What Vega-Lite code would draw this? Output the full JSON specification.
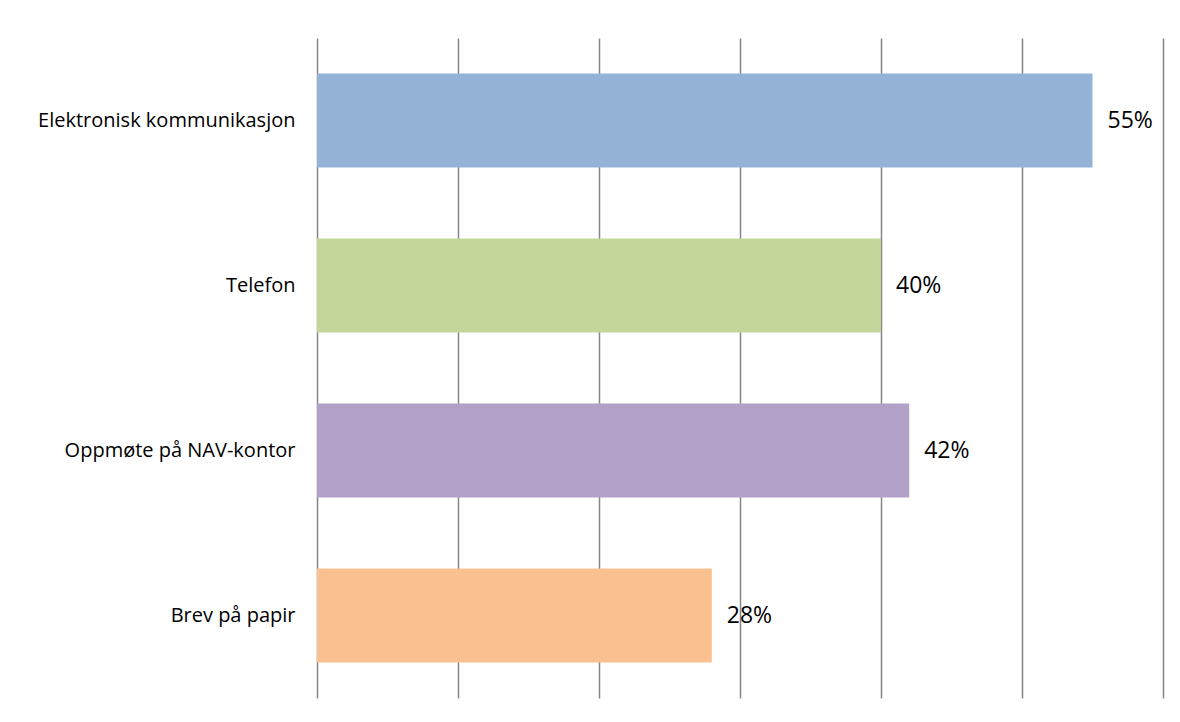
{
  "$schema": "https://vega.github.io/schema/vega-lite/v6.json",
  "autosize": {"type": "none"},
  "padding": {"left": 317, "top": 38, "right": 17, "bottom": 24},
  "width": 846,
  "height": 660,
  "background": "white",
  "config": {"view": {"stroke": null}, "font": "Open Sans"},
  "data": {
    "values": [
      {"kanal": "Elektronisk kommunikasjon", "andel": 0.55},
      {"kanal": "Telefon", "andel": 0.40},
      {"kanal": "Oppmøte på NAV-kontor", "andel": 0.42},
      {"kanal": "Brev på papir", "andel": 0.28}
    ]
  },
  "encoding": {
    "y": {
      "field": "kanal",
      "type": "nominal",
      "sort": null,
      "scale": {"paddingInner": 0.43, "paddingOuter": 0.215},
      "axis": {
        "title": null,
        "domain": false,
        "ticks": false,
        "labelFontSize": 20,
        "labelColor": "#000000",
        "labelPadding": 22,
        "labelLimit": 0,
        "labelFont": "Open Sans"
      }
    },
    "x": {
      "field": "andel",
      "type": "quantitative",
      "scale": {"domain": [0, 0.6], "nice": false},
      "axis": {
        "title": null,
        "labels": false,
        "ticks": false,
        "domain": false,
        "values": [0, 0.1, 0.2, 0.3, 0.4, 0.5, 0.6],
        "grid": true,
        "gridColor": "#868686",
        "gridWidth": 1.5
      }
    }
  },
  "layer": [
    {
      "mark": {"type": "bar"},
      "encoding": {
        "color": {
          "field": "kanal",
          "type": "nominal",
          "scale": {
            "domain": ["Elektronisk kommunikasjon", "Telefon", "Oppmøte på NAV-kontor", "Brev på papir"],
            "range": ["#95B3D7", "#C4D79B", "#B1A0C7", "#FAC090"]
          },
          "legend": null
        }
      }
    },
    {
      "mark": {"type": "text", "align": "left", "baseline": "middle", "dx": 15, "fontSize": 23, "color": "#000000", "font": "Open Sans"},
      "encoding": {
        "text": {"field": "andel", "type": "quantitative", "format": ".0%"}
      }
    }
  ]
}
